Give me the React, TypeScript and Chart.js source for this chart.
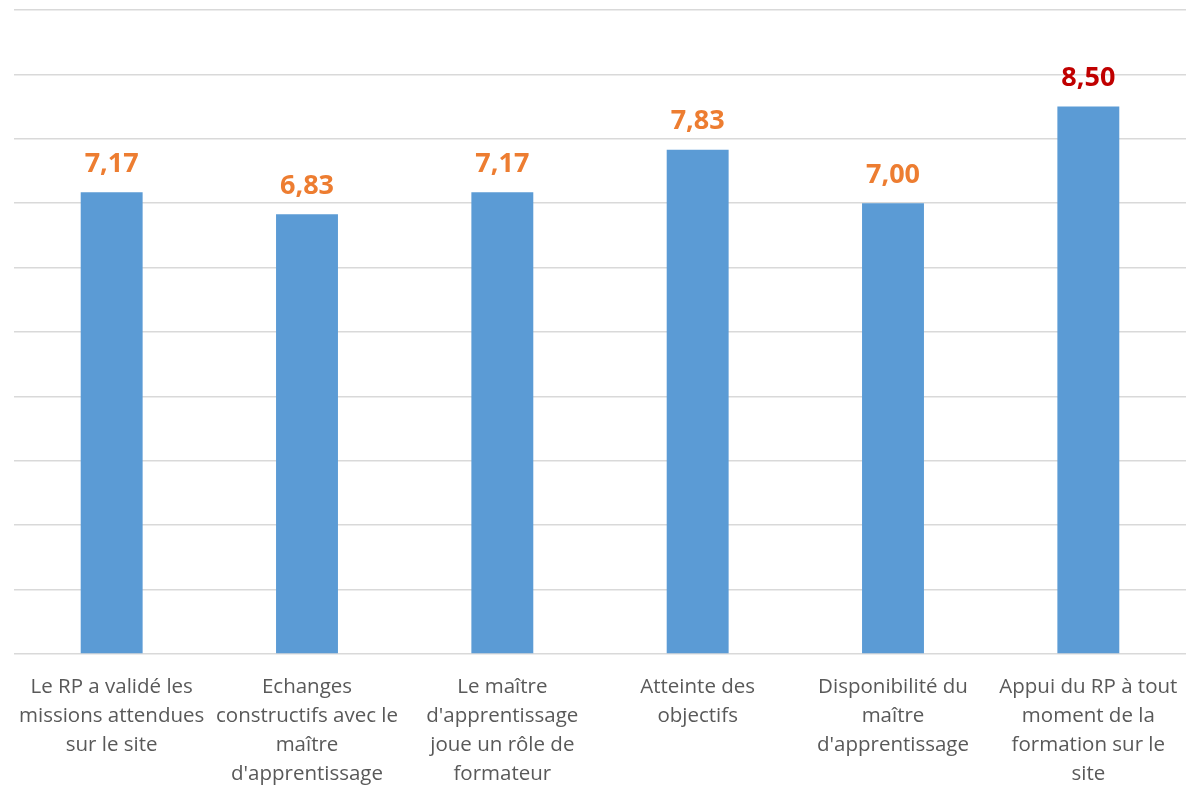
import React, { useEffect, useRef } from "react";
import { Chart, registerables } from "chart.js";

Chart.register(...registerables);

const categories: string[][] = [
  ["Le RP a validé les", "missions attendues", "sur le site"],
  ["Echanges", "constructifs avec le", "maître", "d'apprentissage"],
  ["Le maître", "d'apprentissage", "joue un rôle de", "formateur"],
  ["Atteinte des", "objectifs"],
  ["Disponibilité du", "maître", "d'apprentissage"],
  ["Appui du RP à tout", "moment de la", "formation sur le", "site"],
];
const scores: number[] = [7.17, 6.83, 7.17, 7.83, 7.0, 8.5];
const yMin = 0;
const yMax = 10;
const yStep = 1;

const BAR = "#5B9BD5";
const ORANGE = "#ED7D31";
const RED = "#C00000";
const FONT = "'Open Sans', Lato, sans-serif";

const valueLabels = {
  id: "valueLabels",
  afterDatasetsDraw(chart: any) {
    const ctx = chart.ctx;
    const meta = chart.getDatasetMeta(0);
    const ds = chart.data.datasets[0].data as number[];
    const maxV = Math.max(...ds);
    ctx.save();
    ctx.font = `bold 27px ${FONT}`;
    ctx.textAlign = "center";
    ctx.textBaseline = "alphabetic";
    meta.data.forEach((el: any, i: number) => {
      ctx.fillStyle = ds[i] === maxV ? RED : ORANGE;
      ctx.fillText(ds[i].toFixed(2).replace(".", ","), el.x, el.y - 20.5);
    });
    ctx.restore();
  },
};

export default function App() {
  const ref = useRef<HTMLCanvasElement>(null);
  useEffect(() => {
    if (!ref.current) return;
    const chart = new Chart(ref.current, {
      type: "bar",
      data: {
        labels: categories,
        datasets: [
          {
            data: scores,
            backgroundColor: BAR,
            categoryPercentage: 1,
            barPercentage: 0.317,
          },
        ],
      },
      options: {
        animation: false,
        responsive: false,
        maintainAspectRatio: false,
        layout: { padding: { left: 14, right: 0, top: 10, bottom: 0 } },
        plugins: { legend: { display: false }, tooltip: { enabled: false } },
        scales: {
          x: {
            grid: { display: false, drawTicks: false },
            border: { display: false },
            ticks: {
              color: "#595959",
              font: { family: FONT, size: 20.5, lineHeight: 1.415 },
              padding: 19,
              maxRotation: 0,
              minRotation: 0,
              autoSkip: false,
            },
            afterFit: (s: any) => {
              s.height = 132;
              s.paddingLeft = 0;
              s.paddingRight = 0;
            },
          },
          y: {
            min: yMin,
            max: yMax,
            ticks: { stepSize: yStep, display: false },
            grid: { color: "#d9d9d9", lineWidth: 1.5, drawTicks: false },
            border: { display: false },
            afterFit: (s: any) => {
              s.width = 0;
            },
          },
        },
      },
      plugins: [valueLabels],
    });
    return () => chart.destroy();
  }, []);
  return (
    <div style={{ position: "absolute", left: 0, top: 0, width: 1186, height: 786, background: "#fff" }}>
      <canvas ref={ref} width={1186} height={786} style={{ width: 1186, height: 786 }} />
    </div>
  );
}
